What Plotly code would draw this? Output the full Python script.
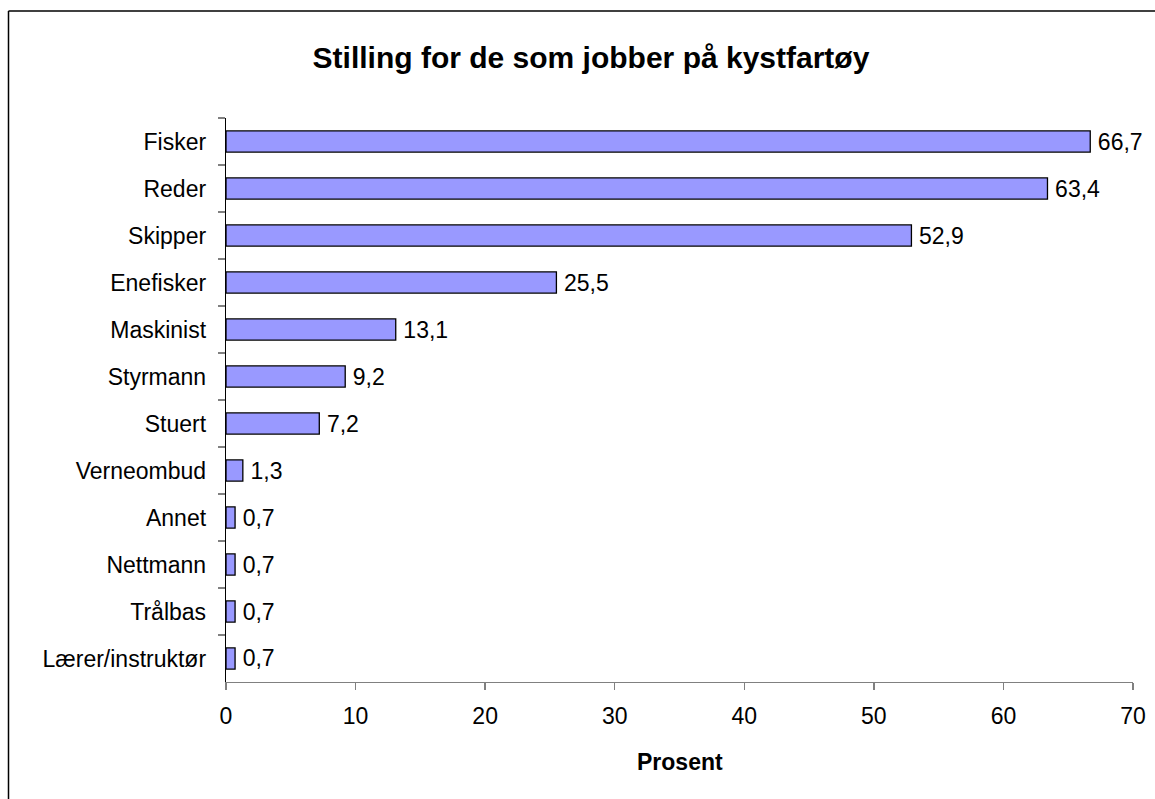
import plotly.graph_objects as go

categories = ["Fisker", "Reder", "Skipper", "Enefisker", "Maskinist", "Styrmann",
              "Stuert", "Verneombud", "Annet", "Nettmann", "Trålbas", "Lærer/instruktør"]
values = [66.7, 63.4, 52.9, 25.5, 13.1, 9.2, 7.2, 1.3, 0.7, 0.7, 0.7, 0.7]
x_ticks = [0, 10, 20, 30, 40, 50, 60, 70]
title_text = "Stilling for de som jobber på kystfartøy"
x_title = "Prosent"

labels = ["\u2009" + f"{v:.1f}".replace(".", ",") for v in values]

FONT = "Liberation Sans, Arial, sans-serif"
W, H = 1155, 799
L, T = 226, 118
PW, PH = 907, 564
R = W - L - PW
B = H - T - PH


def px(xp):  # page x -> paper x
    return (xp - L) / PW


def py(yp):  # page y -> paper y
    return (T + PH - yp) / PH


fig = go.Figure(go.Bar(
    y=categories, x=values, orientation="h",
    marker=dict(color="#9999FF", line=dict(color="black", width=1.3)),
    width=0.45,
    text=labels, textposition="outside", cliponaxis=False, constraintext="none",
    textfont=dict(family=FONT, size=23, color="black"),
    hoverinfo="skip",
))

fig.update_layout(
    width=W, height=H,
    margin=dict(l=L, r=R, t=T, b=B, autoexpand=False),
    paper_bgcolor="white", plot_bgcolor="white",
    showlegend=False,
    title=dict(text=f"<b>{title_text}</b>", x=591 / W, xanchor="center",
               y=1 - 57 / H, yanchor="middle",
               font=dict(family=FONT, size=30, color="black")),
    xaxis=dict(range=[0, 70], tickvals=x_ticks, ticktext=[str(t) for t in x_ticks],
               showgrid=False, zeroline=False, showline=True, linecolor="#808080",
               linewidth=1.3, ticks="outside", ticklen=7, tickcolor="#808080",
               tickwidth=1.3, tickfont=dict(family=FONT, size=23, color="black"),
               ticklabelstandoff=6, fixedrange=True, automargin=False),
    yaxis=dict(categoryorder="array", categoryarray=categories, autorange="reversed",
               showgrid=False, zeroline=False, showline=True, linecolor="black",
               linewidth=1.3, ticks="outside", ticklen=7, tickcolor="#808080",
               tickwidth=1.3, tickson="boundaries",
               tickfont=dict(family=FONT, size=23, color="black"),
               ticklabelstandoff=14, fixedrange=True, automargin=False),
    shapes=[
        dict(type="line", xref="paper", yref="paper",
             x0=px(8.5), x1=px(W + 20), y0=py(11), y1=py(11),
             line=dict(color="black", width=1.5), layer="below"),
        dict(type="line", xref="paper", yref="paper",
             x0=px(8.5), x1=px(8.5), y0=py(11), y1=py(H + 20),
             line=dict(color="black", width=1.5), layer="below"),
    ],
    annotations=[dict(text=f"<b>{x_title}</b>", xref="paper", yref="paper",
                      x=0.5, y=py(762), xanchor="center", yanchor="middle",
                      showarrow=False, font=dict(family=FONT, size=23, color="black"))],
)

fig.write_html(
    "out.html",
    config={"displayModeBar": False, "staticPlot": True},
    post_script=("document.body.style.margin='0';"
                 "document.body.style.overflow='hidden';"
                 "document.documentElement.style.overflow='hidden';"),
)
